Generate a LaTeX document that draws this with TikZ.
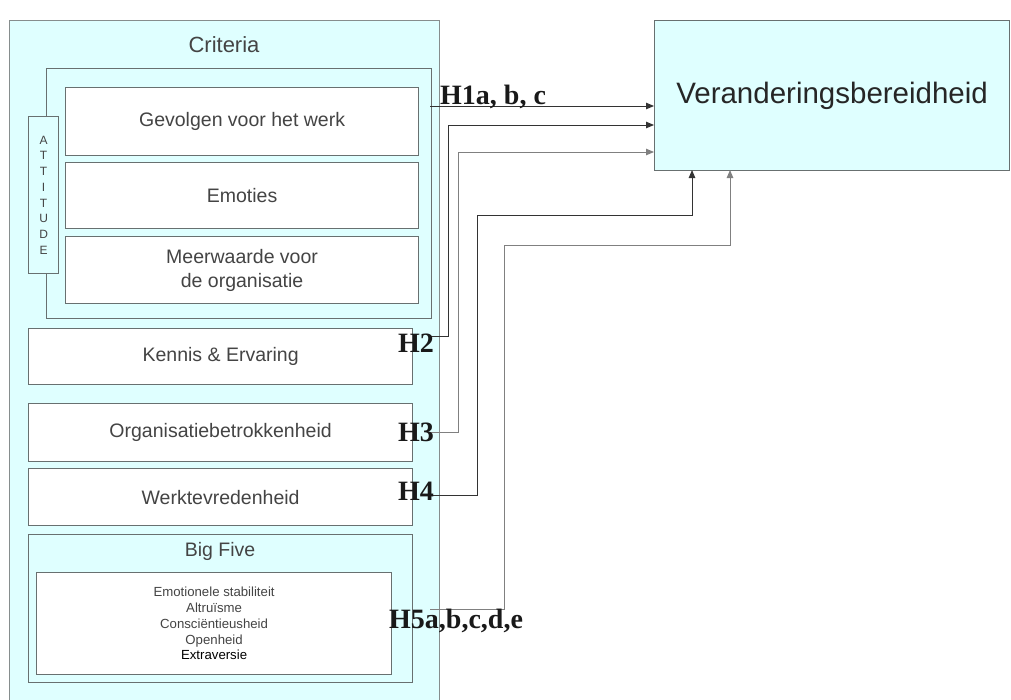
\documentclass[tikz,border=0pt]{standalone}
\usepackage{fontspec}
\setmainfont{Liberation Sans}
\newfontfamily\hypfont{Liberation Serif}
\usetikzlibrary{arrows.meta}
\definecolor{paleCyan}{HTML}{DFFFFF}
\definecolor{edgeGray}{HTML}{687070}
\definecolor{txtGray}{HTML}{444444}

\begin{document}
\begin{tikzpicture}[x=1pt,y=-1pt,
  box/.style={draw=edgeGray, line width=1.2pt, anchor=north west, inner sep=0pt,
              text=txtGray, align=center, font=\fontsize{19.5}{24}\selectfont},
  panel/.style={box, fill=paleCyan},
  item/.style={box, fill=white},
  hyp/.style={font=\hypfont\bfseries\fontsize{28}{30}\selectfont, inner sep=0pt, text=black!90},
  link/.style={line width=0.9pt, draw=black!80, -{Triangle[length=8pt,width=6.5pt]}},
  linklight/.style={link, draw=black!50}
]
\useasboundingbox (0,0) rectangle (1011,699);
\clip (0,0) rectangle (1011,699);
\fill[white] (0,0) rectangle (1011,699);

% criteria panel (runs off the bottom edge)
\node[panel, draw=edgeGray!80, minimum width=430pt, minimum height=720pt] (crit) at (9,20) {};
\node[text=txtGray, font=\fontsize{22}{26}\selectfont] (critT) at (224,45) {Criteria};

% attitude group
\node[panel, minimum width=385pt, minimum height=250pt] (att) at (46,68) {};
\node[panel, minimum width=30pt, minimum height=157pt,
      font=\fontsize{12}{15.7}\selectfont] (attL) at (28,116) {A\\T\\T\\I\\T\\U\\D\\E};
\node[item, minimum width=353pt, minimum height=68pt] (gev) at (65,87) {Gevolgen voor het werk};
\node[item, minimum width=353pt, minimum height=66pt] (emo) at (65,162) {Emoties};
\node[item, minimum width=353pt, minimum height=67pt] (mee) at (65,236) {Meerwaarde voor\\de organisatie};

% other criteria
\node[item, minimum width=384pt, minimum height=56pt] (ken) at (28,328) {Kennis \& Ervaring};
\node[item, minimum width=384pt, minimum height=58pt] (org) at (28,403) {Organisatiebetrokkenheid};
\node[item, minimum width=384pt, minimum height=57pt] (wer) at (28,468) {Werktevredenheid};

% big five
\node[panel, minimum width=384pt, minimum height=148pt] (big) at (28,534) {};
\node[text=txtGray, font=\fontsize{19.5}{24}\selectfont] (bigT) at (220,551) {Big Five};
\node[item, minimum width=355pt, minimum height=102pt,
      font=\fontsize{13.2}{15.75}\selectfont] (traits) at (36,572)
  {Emotionele stabiliteit\\Altruïsme\\Consciëntieusheid\\Openheid\\{\color{black}Extraversie}};

% outcome
\node[panel, minimum width=355pt, minimum height=150pt,
      font=\fontsize{29.5}{34}\selectfont, text=black!85] (vb) at (654,20) {Veranderingsbereidheid};

% connector end points
\coordinate (s1) at (430,106);
\coordinate (s2) at (430,336);
\coordinate (s3) at (430,432);
\coordinate (s4) at (430,495);
\coordinate (s5) at (430,609);
\coordinate (t4) at (692,170);
\coordinate (t5) at (730,170);

\draw[link] (s1) -- (s1 -| vb.west);
\draw[link] (s2) -- (448,336) -- (448,125) -- (vb.west |- 0,125);
\draw[linklight] (s3) -- (458,432) -- (458,152) -- (vb.west |- 0,152);
\draw[link] (s4) -- (477,495) -- (477,215) -| (t4);
\draw[linklight] (s5) -- (504,609) -- (504,245) -| (t5);

% hypothesis labels
\node[hyp, anchor=base west] (h1) at (440,104) {H1a, b, c};
\node[hyp, anchor=base west] (h2) at (398,352) {H2};
\node[hyp, anchor=base west] (h3) at (398,441) {H3};
\node[hyp, anchor=base west] (h4) at (398,500) {H4};
\node[hyp, anchor=base west] (h5) at (389,628) {H5a,b,c,d,e};
\end{tikzpicture}
\end{document}
